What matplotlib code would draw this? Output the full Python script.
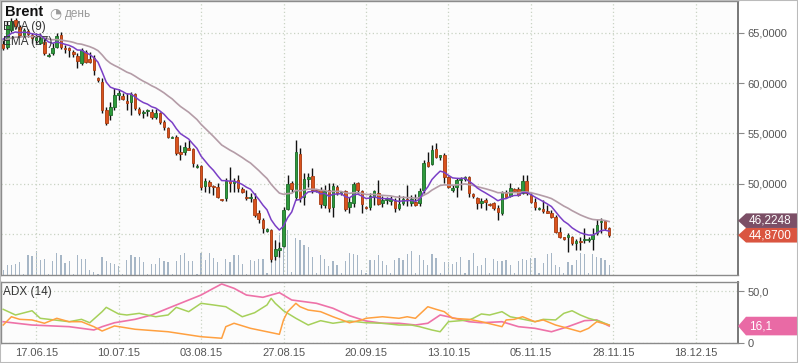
import numpy as np
import matplotlib
matplotlib.use("Agg")
import matplotlib.pyplot as plt
from matplotlib.patches import Polygon, Rectangle
from matplotlib.transforms import blended_transform_factory

plt.rcParams['font.family'] = ['Liberation Sans', 'DejaVu Sans']

# daily Brent candles (incl. short sunday sessions), 08.06.15 - 27.11.15
opens = [63.84, 63.54, 65.23, 66.22, 65.52, 64.73, 65.13, 64.73, 64.23, 63.94,
         64.04, 62.65, 62.94, 63.54, 64.73, 63.44, 63.44, 63.04, 62.65, 61.95,
         63.04, 62.35, 62.45, 60.46, 60.07, 57.29, 56.79, 57.59, 58.78, 58.68,
         58.18, 58.08, 58.88, 57.39, 56.99, 57.19, 57.09, 56.60, 56.99, 56.10,
         55.50, 54.56, 54.61, 53.12, 53.12, 53.52, 53.42, 51.64, 51.73, 49.75,
         50.15, 49.75, 49.65, 48.46, 48.56, 50.25, 50.05, 50.35, 49.45, 48.66,
         48.56, 48.46, 47.07, 46.38, 45.29, 45.39, 42.81, 43.40, 43.80, 47.47,
         50.05, 48.66, 52.92, 48.66, 50.45, 50.74, 49.36, 49.36, 47.86, 49.36,
         47.67, 49.65, 49.06, 49.26, 47.67, 48.06, 50.05, 49.26, 47.67, 47.67,
         48.66, 49.06, 48.06, 48.36, 48.26, 48.26, 47.57, 48.06, 48.46, 48.06,
         48.16, 48.06, 49.36, 52.13, 51.93, 53.42, 52.63, 52.82, 50.64, 49.36,
         49.65, 50.35, 50.45, 50.64, 48.96, 48.56, 48.06, 48.36, 47.96, 48.06,
         47.57, 47.07, 49.16, 48.76, 49.45, 49.45, 49.06, 50.25, 48.86, 48.16,
         47.47, 47.47, 47.27, 47.07, 46.68, 45.19, 44.69, 44.69, 44.69, 44.09,
         44.29, 44.39, 44.39, 44.49, 45.09, 46.18, 46.28, 45.59]
highs = [64.33, 66.12, 66.42, 66.42, 65.72, 65.42, 65.33, 64.93, 64.93, 64.93,
         64.53, 62.94, 63.94, 64.93, 65.03, 63.74, 63.54, 63.24, 62.94, 63.44,
         63.24, 63.04, 62.74, 60.56, 60.46, 57.59, 58.08, 59.47, 59.38, 58.98,
         58.98, 59.08, 58.98, 57.59, 57.29, 57.39, 57.39, 57.39, 57.09, 56.30,
         55.60, 54.71, 54.81, 53.82, 54.11, 54.31, 53.52, 51.93, 51.83, 50.55,
         50.35, 49.85, 50.05, 48.46, 50.55, 51.64, 50.55, 50.84, 49.65, 49.36,
         49.06, 49.06, 47.37, 46.58, 45.59, 45.49, 44.39, 44.19, 47.67, 50.84,
         50.25, 54.31, 53.52, 51.04, 51.04, 51.54, 49.45, 49.65, 49.85, 50.05,
         50.05, 49.85, 49.26, 49.36, 48.66, 50.15, 50.15, 49.36, 47.77, 49.06,
         49.36, 50.35, 48.76, 48.66, 48.76, 48.56, 48.86, 48.76, 49.85, 48.86,
         48.96, 49.55, 52.33, 53.12, 53.82, 54.01, 52.82, 53.02, 50.74, 49.85,
         50.55, 50.64, 50.74, 50.74, 49.06, 48.66, 48.56, 48.56, 48.06, 48.16,
         47.86, 49.26, 49.36, 50.05, 49.55, 49.65, 50.84, 50.84, 49.06, 48.56,
         47.67, 48.36, 47.86, 47.37, 46.87, 45.69, 44.69, 45.09, 44.79, 44.49,
         44.69, 45.59, 44.69, 45.59, 46.48, 46.58, 46.38, 45.69]
lows = [63.24, 63.34, 65.03, 65.42, 64.53, 64.53, 64.53, 63.94, 63.94, 63.84,
        62.74, 62.55, 62.74, 63.44, 63.34, 62.94, 62.55, 62.55, 61.45, 61.75,
        61.95, 61.95, 60.76, 60.07, 56.99, 55.80, 56.30, 57.29, 58.28, 58.28,
        57.29, 56.79, 57.29, 56.79, 56.50, 56.69, 56.40, 56.40, 55.90, 55.31,
        54.51, 54.51, 52.82, 52.33, 52.82, 53.32, 51.64, 51.54, 49.36, 49.16,
        49.06, 48.86, 48.56, 48.26, 48.26, 49.16, 49.16, 49.16, 49.06, 48.36,
        48.16, 46.68, 46.08, 45.09, 45.19, 42.21, 42.41, 42.71, 43.70, 47.37,
        49.16, 48.36, 48.16, 47.86, 49.65, 49.06, 49.16, 47.57, 47.57, 47.17,
        46.68, 48.86, 48.86, 47.27, 47.07, 47.67, 49.06, 47.07, 47.47, 47.37,
        47.86, 47.86, 47.67, 47.96, 47.86, 47.17, 47.37, 47.86, 47.77, 47.77,
        47.77, 47.77, 49.06, 51.64, 51.83, 52.53, 52.33, 50.05, 49.55, 49.16,
        48.66, 49.36, 50.25, 48.66, 48.56, 47.47, 47.57, 47.37, 47.77, 47.37,
        46.38, 46.87, 48.56, 48.66, 49.16, 48.76, 48.96, 48.86, 48.06, 47.37,
        47.37, 47.07, 47.07, 46.58, 45.09, 44.59, 44.39, 43.20, 43.90, 43.40,
        43.40, 44.09, 44.19, 43.40, 44.89, 45.09, 45.39, 44.69]
closes = [63.44, 65.72, 66.12, 65.62, 64.73, 65.23, 64.83, 64.43, 64.63, 64.53,
          62.94, 62.74, 63.44, 64.63, 63.54, 63.34, 63.29, 62.84, 62.15, 63.24,
          62.05, 62.05, 61.26, 60.27, 57.29, 56.00, 57.59, 58.78, 58.98, 58.38,
          57.98, 58.88, 57.49, 56.99, 57.09, 57.29, 56.60, 56.99, 56.10, 55.60,
          54.61, 54.61, 53.02, 52.97, 53.62, 53.37, 52.03, 51.73, 49.65, 50.25,
          49.75, 49.65, 48.66, 48.36, 50.25, 50.05, 50.25, 49.55, 49.16, 48.56,
          48.66, 46.87, 46.48, 45.59, 45.49, 42.51, 43.50, 43.60, 47.37, 49.95,
          49.45, 53.12, 48.56, 50.45, 50.64, 49.36, 49.31, 47.96, 49.26, 47.57,
          49.75, 49.06, 49.16, 47.47, 48.16, 49.95, 49.36, 47.96, 47.57, 48.76,
          49.26, 47.96, 48.36, 48.46, 48.46, 47.57, 47.96, 48.46, 48.36, 48.46,
          47.86, 49.26, 52.03, 51.73, 53.32, 52.63, 52.82, 50.64, 49.65, 49.55,
          50.35, 50.45, 50.64, 49.06, 48.76, 48.06, 48.26, 48.16, 47.86, 47.57,
          47.17, 49.16, 48.66, 49.55, 49.26, 48.86, 50.25, 49.06, 48.16, 47.67,
          47.57, 47.27, 47.07, 46.68, 45.19, 44.69, 44.49, 44.89, 44.09, 44.29,
          44.19, 44.49, 44.49, 44.89, 45.88, 46.28, 45.59, 44.87]
volume = [5, 10, 10, 11, 13, 1, 20, 19, 24, 15, 16, 1,
          14, 22, 20, 12, 14, 1, 20, 16, 16, 5, 3, 1,
          18, 14, 12, 11, 9, 1, 15, 20, 18, 18, 13, 1,
          11, 11, 17, 14, 13, 1, 14, 20, 22, 14, 14, 1,
          22, 15, 22, 17, 13, 1, 16, 13, 20, 20, 11, 1,
          15, 14, 16, 16, 2, 32, 35, 42, 35, 45, 3, 37,
          35, 30, 28, 18, 2, 20, 16, 9, 14, 10, 2, 14,
          22, 21, 20, 5, 2, 15, 15, 20, 14, 10, 2, 15,
          17, 15, 21, 24, 2, 20, 15, 10, 21, 17, 2, 13,
          13, 11, 13, 18, 2, 15, 22, 9, 10, 17, 2, 16,
          14, 14, 15, 10, 2, 14, 16, 15, 17, 17, 2, 12,
          21, 22, 10, 8, 2, 13, 10, 15, 22, 21, 2, 21,
          18, 17, 15, 10]

# ema seeds (values at left edge of the chart)
ema9_seed = 64.6
ema27_seed = 64.3

# ADX(14) panel, read at bar positions
adx_x = [0, 7, 16, 22, 24, 27, 32, 36, 40, 44, 48, 51, 53, 56, 59, 63, 67, 70,
         76, 80, 84, 88, 92, 96, 100, 103, 106, 108, 113, 116, 121, 125, 129,
         133, 137, 141, 144, 147]
adx_v = [20.3, 17.1, 15.5, 12.3, 15.5, 19.3, 22.6, 26.8, 33.3, 39.7, 46.1, 52.6,
         56.8, 52.6, 46.1, 43.9, 48.4, 41.3, 38.1, 33.3, 26.1, 21.0, 18.8, 18.8,
         17.1, 18.8, 26.8, 25.1, 20.3, 19.3, 20.3, 15.5, 13.9, 10.6, 15.5, 21.3,
         22.0, 16.1]
pdi_x = [0, 2, 4, 7, 10, 13, 16, 19, 22, 24, 27, 32, 40, 48, 53, 54, 56, 60, 64,
         67, 68, 69, 71, 72, 74, 77, 80, 84, 87, 88, 92, 96, 98, 100, 103, 105,
         107, 109, 113, 116, 121, 122, 124, 126, 129, 131, 134, 137, 140, 142,
         144, 147]
pdi_v = [17.1, 25.1, 22.6, 22.0, 18.8, 23.6, 20.3, 20.3, 15.5, 11.3, 16.2, 13.0,
         10.6, 5.8, 4.3, 15.5, 18.8, 13.9, 10.6, 8.1, 22.0, 30.0, 38.1, 34.8,
         31.6, 30.0, 25.1, 19.3, 22.0, 23.6, 25.1, 23.6, 25.1, 23.6, 34.8, 32.3,
         30.0, 23.6, 22.6, 20.3, 15.5, 22.0, 22.6, 25.1, 20.3, 22.0, 17.1, 13.9,
         10.6, 13.9, 20.3, 17.1]
mdi_x = [0, 3, 7, 9, 16, 19, 21, 24, 25, 28, 30, 33, 37, 40, 42, 45, 48, 51, 54,
         58, 61, 64, 65, 66, 68, 71, 74, 77, 80, 84, 88, 92, 96, 99, 101, 104,
         106, 108, 113, 114, 116, 118, 121, 123, 125, 129, 131, 134, 136, 138,
         140, 142, 145, 147]
mdi_v = [32.3, 26.8, 30.9, 23.6, 20.3, 22.6, 19.3, 30.0, 34.2, 27.8, 26.8, 28.4,
         25.1, 26.8, 34.2, 30.0, 38.1, 36.5, 34.8, 25.1, 29.0, 36.5, 42.9, 38.1,
         30.9, 23.6, 17.1, 21.3, 18.8, 21.0, 19.3, 18.8, 17.1, 17.1, 15.5, 12.3,
         10.6, 20.3, 22.0, 23.6, 27.8, 26.8, 30.0, 25.1, 23.6, 20.3, 22.6, 22.0,
         28.4, 30.9, 26.8, 23.6, 20.3, 17.1]

tick_pos = [8, 28, 48, 68, 88, 108, 128, 148, 168]
tick_lab = ['17.06.15', '10.07.15', '03.08.15', '27.08.15', '20.09.15',
            '13.10.15', '05.11.15', '28.11.15', '18.12.15']

ema27_last = '46,2248'
close_last = '44,8700'
adx_last = '16,1'

# ------------------------------------------------------------------
o = np.array(opens); h = np.array(highs); l = np.array(lows); c = np.array(closes)
n = len(c)
idx = np.arange(n)

def ema(vals, period, seed):
    a = 2.0 / (period + 1)
    out = []
    e = seed
    for v in vals:
        e = e + a * (v - e)
        out.append(e)
    return np.array(out)

ema9 = ema(c, 9, ema9_seed)
ema27 = ema(c, 27, ema27_seed)

W, H = 798, 363
fig = plt.figure(figsize=(W / 100, H / 100), dpi=100)
fig.patch.set_facecolor('white')

def px_rect(x0, y0, x1, y1):
    return [x0 / W, 1 - y1 / H, (x1 - x0) / W, (y1 - y0) / H]

ax_vol = fig.add_axes(px_rect(0.5, 0.5, 738, 275))
ax = fig.add_axes(px_rect(0.5, 0.5, 738, 275), sharex=ax_vol)
ax_adx = fig.add_axes(px_rect(0.5, 281.7, 738, 342.7), sharex=ax_vol)

xmin, xmax = -0.65, 178.25
grid_kw = dict(color='#c9d3c4', linestyle=(0, (1, 2)), linewidth=0.9)
spine_c = '#8a8a8a'
txt_c = '#555555'

# volume (behind candles)
ax_vol.set_facecolor('#fcfcfc')
ax_vol.bar(idx, volume, width=0.3, color='#a6b6c6', zorder=1)
ax_vol.set_ylim(0, 275)
ax_vol.set_xlim(xmin, xmax)
ax_vol.set_yticks([])
ax_vol.tick_params(axis='x', length=0, labelbottom=False)
for s in ax_vol.spines.values():
    s.set_visible(False)

# candles
ax.set_facecolor('none')
up = c >= o
body_lo = np.minimum(o, c)
body_h = np.maximum(np.abs(c - o), 0.1)
ax.vlines(idx, l, h, color='#111111', linewidth=1.0, zorder=3)
ax.bar(idx[up], body_h[up], bottom=body_lo[up], width=0.62,
       color='#2e9a3c', edgecolor='#1d6b29', linewidth=0.6, zorder=4)
ax.bar(idx[~up], body_h[~up], bottom=body_lo[~up], width=0.62,
       color='#d9531e', edgecolor='#a83c12', linewidth=0.6, zorder=4)
ax.plot(idx, ema27, color='#b49ca7', linewidth=1.2, zorder=5)
ax.plot(idx, ema9, color='#7a3fc6', linewidth=1.1, zorder=5)

ax.set_xlim(xmin, xmax)
ax.set_ylim(40.92, 68.2)
ax.set_yticks([45, 50, 55, 60, 65])
ax.set_yticklabels(['', '50,0000', '55,0000', '60,0000', '65,0000'])
ax.yaxis.tick_right()
ax.set_xticks(tick_pos)
ax.tick_params(axis='x', length=0, labelbottom=False)
ax.tick_params(axis='y', direction='out', length=4, color=spine_c,
               labelsize=8, labelcolor=txt_c, pad=3)
ax.grid(True, **grid_kw)
ax.set_axisbelow(True)
for name, s in ax.spines.items():
    s.set_color(spine_c)
    s.set_linewidth(1.0)
ax.spines['right'].set_linewidth(1.4)
ax.spines['right'].set_color('#777777')

# ADX panel
ax_adx.set_facecolor('#fcfcfc')
ax_adx.plot(adx_x, adx_v, color='#ee72a8', linewidth=1.2, zorder=3)
ax_adx.plot(mdi_x, mdi_v, color='#a6d05a', linewidth=1.1, zorder=3)
ax_adx.plot(pdi_x, pdi_v, color='#ffa040', linewidth=1.1, zorder=3)
ax_adx.set_xlim(xmin, xmax)
ax_adx.set_ylim(0, 59)
ax_adx.set_yticks([0, 50])
ax_adx.set_yticklabels(['0', '50,0'])
ax_adx.yaxis.tick_right()
ax_adx.set_xticks(tick_pos)
ax_adx.set_xticklabels(tick_lab)
ax_adx.tick_params(axis='x', length=0, labelsize=8, labelcolor=txt_c, pad=4)
ax_adx.tick_params(axis='y', direction='out', length=4, color=spine_c,
                   labelsize=8, labelcolor=txt_c, pad=3)
ax_adx.grid(True, **grid_kw)
ax_adx.set_axisbelow(True)
for s in ax_adx.spines.values():
    s.set_color(spine_c)
    s.set_linewidth(1.0)
ax_adx.spines['right'].set_linewidth(1.4)
ax_adx.spines['right'].set_color('#777777')

# value tags on the right axis
def tag(axis, yc, half, text, color):
    tr = blended_transform_factory(axis.transAxes, axis.transData)
    wpx = 737.5
    tip, sh, right = 1.0, 1 + 8 / wpx, (797.5 - 0.5) / wpx
    pts = [(tip, yc), (sh, yc + half), (right, yc + half),
           (right, yc - half), (sh, yc - half)]
    axis.add_patch(Polygon(pts, closed=True, transform=tr, facecolor=color,
                           edgecolor='none', clip_on=False, zorder=10))
    axis.text(1 + 11 / wpx, yc, text, transform=tr, color='white',
              fontsize=8.5, va='center', ha='left', clip_on=False, zorder=11)

half_main = 7.3 / 10.08
tag(ax, c[-1], half_main, close_last, '#da5540')
tag(ax, c[-1] + 2 * half_main, half_main, ema27_last, '#7b4f66')
tag(ax_adx, adx_v[-1], 9.0, adx_last, '#e96aa5')

# titles / legends
fig.text(5 / W, 1 - 12.5 / H, 'Brent', fontsize=10.5, fontweight='bold',
         color='#111111', va='center', ha='left')
fig.text(49 / W, 1 - 13 / H, '\u25d4', fontsize=10, color='#9a9a9a',
         va='center', ha='left', family='DejaVu Sans')
fig.text(65 / W, 1 - 13.5 / H, 'день', fontsize=8.5, color='#999999',
         va='center', ha='left')
fig.text(3 / W, 1 - 27 / H, 'EMA (9)', fontsize=8.5, color='#333333',
         va='center', ha='left')
fig.text(3 / W, 1 - 42 / H, 'EMA (27)', fontsize=8.5, color='#333333',
         va='center', ha='left')
fig.text(3 / W, 1 - 292.5 / H, 'ADX (14)', fontsize=8.5, color='#333333',
         va='center', ha='left')

fig.add_artist(Rectangle((0, 0), 1, 1, transform=fig.transFigure, fill=False,
                         edgecolor='#bbbbbb', linewidth=1.5))

fig.savefig('out.png', dpi=100, facecolor='white')
